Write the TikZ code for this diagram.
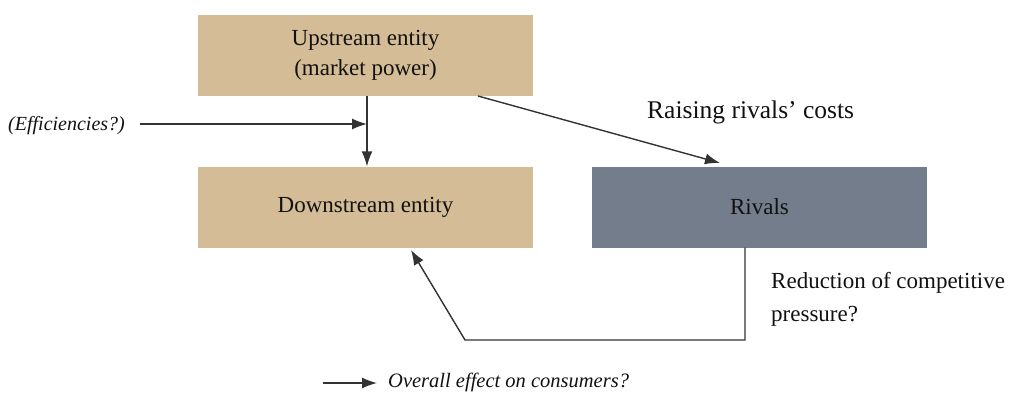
\documentclass[tikz,border=0pt]{standalone}
\usepackage{fontspec}
\setmainfont{Liberation Serif}
\usetikzlibrary{arrows.meta}
\definecolor{tan}{HTML}{D4BC96}
\definecolor{slate}{HTML}{737D8C}
\definecolor{txt}{HTML}{111111}
\begin{document}
\begin{tikzpicture}[x=1pt,y=-1pt,
  box/.style={draw=none,minimum width=335pt,minimum height=81pt,inner sep=0pt,align=center,text=txt,font=\fontsize{23}{30}\selectfont},
  arr/.style={-{Latex[length=15pt,width=11pt]},line width=1.4pt,draw=black!80},
  lab/.style={inner sep=0pt,anchor=west,text=txt}]
\useasboundingbox (0,0) rectangle (1009,401);
\node[box,fill=tan] (up) at (365.5,55.5) {Upstream entity\\(market power)};
\node[box,fill=tan] (down) at (365.5,207) {Downstream entity};
\node[box,fill=slate] (riv) at (759.5,207) {Rivals};
\node[lab,font=\fontsize{20}{22}\selectfont\itshape] (eff) at (8,126) {(Efficiencies?)};
\node[lab,font=\fontsize{25.5}{28}\selectfont] (rr) at (647,112) {Raising rivals’ costs};
\node[lab,font=\fontsize{23}{33}\selectfont,align=left] (red) at (771,299) {Reduction of competitive\\pressure?};
\node[lab,font=\fontsize{20.5}{24}\selectfont\itshape] (ov) at (388,382) {Overall effect on consumers?};
\coordinate (ovs) at (323,383);
\coordinate (ove) at (377,383);
\coordinate (effs) at (140,124);
\coordinate (j) at (367,124);
\coordinate (ru) at (478,96);
\coordinate (rt) at (720,163);
\coordinate (c1) at (745,340);
\coordinate (c2) at (465,340);
\coordinate (dt) at (411,250);
\draw[arr] (up.south -| j) -- (down.north -| j);
\draw[arr] (effs) -- (j);
\draw[arr] (ru) -- (rt);
\draw[arr] (riv.south -| c1) -- (c1) -- (c2) -- (dt);
\draw[arr] (ovs) -- (ove);
\end{tikzpicture}
\end{document}
